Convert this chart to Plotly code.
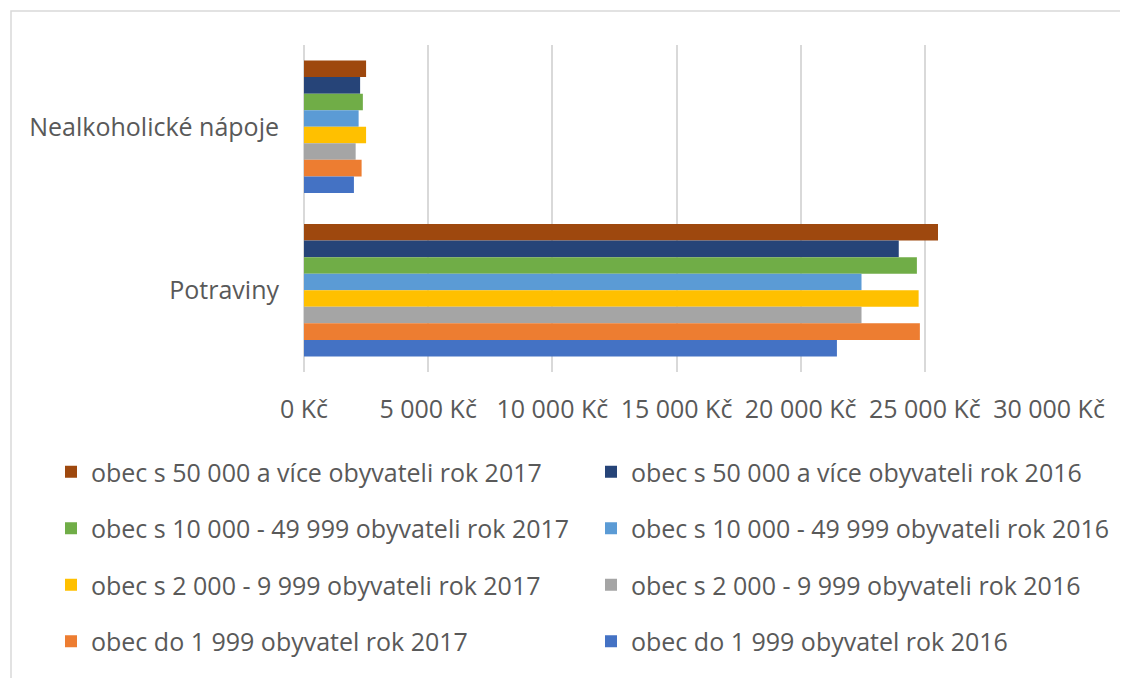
import plotly.graph_objects as go

categories = ["Nealkoholické nápoje", "Potraviny"]

series_names = [
    "obec s 50 000 a více obyvateli rok 2017",
    "obec s 50 000 a více obyvateli rok 2016",
    "obec s 10 000 - 49 999 obyvateli rok 2017",
    "obec s 10 000 - 49 999 obyvateli rok 2016",
    "obec s 2 000 - 9 999 obyvateli rok 2017",
    "obec s 2 000 - 9 999 obyvateli rok 2016",
    "obec do 1 999 obyvatel rok 2017",
    "obec do 1 999 obyvatel rok 2016",
]

val_50k_2017 = [2500, 25530]
val_50k_2016 = [2260, 23950]
val_10k_2017 = [2370, 24680]
val_10k_2016 = [2200, 22450]
val_2k_2017 = [2500, 24750]
val_2k_2016 = [2080, 22450]
val_1999_2017 = [2320, 24800]
val_1999_2016 = [2010, 21460]

series_values = [val_50k_2017, val_50k_2016, val_10k_2017, val_10k_2016,
                 val_2k_2017, val_2k_2016, val_1999_2017, val_1999_2016]

colors = ["#9E480E", "#264478", "#70AD47", "#5B9BD5",
          "#FFC000", "#A5A5A5", "#ED7D31", "#4472C4"]

tick_vals = [0, 5000, 10000, 15000, 20000, 25000, 30000]
tick_text = ["0 Kč", "5 000 Kč", "10 000 Kč", "15 000 Kč", "20 000 Kč", "25 000 Kč", "30 000 Kč"]

FONT = "Open Sans"
TXT = "#595959"
FS = 25

# plot area in figure pixels (page is offset by the 8px body margin)
PL, PR, PT, PB = 296, 1041, 37, 364
PW, PH = PR - PL, PB - PT


def px_x(px):
    return (px - PL) / PW


def px_y(py):
    return (PB - py) / PH


fig = go.Figure()
for i, (name, vals, col) in enumerate(zip(series_names, series_values, colors)):
    fig.add_trace(go.Bar(
        y=categories, x=vals, name=name, orientation="h",
        marker=dict(color=col, line=dict(width=0)),
        legend="legend" if i % 2 == 0 else "legend2",
        legendgroup=name,
    ))

legend_common = dict(
    orientation="v", xref="paper", yref="paper",
    yanchor="top", xanchor="left",
    font=dict(family=FONT, size=FS, color=TXT),
    tracegroupgap=21, bgcolor="rgba(0,0,0,0)",
)

fig.update_layout(
    width=1128, height=678,
    margin=dict(l=PL, r=1128 - PR, t=PT, b=678 - PB, autoexpand=False),
    paper_bgcolor="white", plot_bgcolor="white",
    barmode="group", bargap=0.19, bargroupgap=0,
    font=dict(family=FONT, size=FS, color=TXT),
    xaxis=dict(range=[0, 30000], tickvals=tick_vals, ticktext=tick_text,
               showgrid=True, gridcolor="#d9d9d9", gridwidth=1.5,
               zeroline=True, zerolinecolor="#d9d9d9", zerolinewidth=1.5,
               showline=False, ticks="", ticklabelstandoff=20, tickangle=0,
               automargin=False,
               tickfont=dict(family=FONT, size=FS, color=TXT)),
    yaxis=dict(autorange="reversed", showgrid=False, showline=False, ticks="",
               ticklabelstandoff=24, automargin=False,
               tickfont=dict(family=FONT, size=FS, color=TXT)),
    legend=dict(x=px_x(43), y=px_y(441), **legend_common),
    legend2=dict(x=px_x(583), y=px_y(441), **legend_common),
    shapes=[dict(type="rect", xref="paper", yref="paper",
                 x0=px_x(3), x1=px_x(1140), y0=px_y(690), y1=px_y(3),
                 line=dict(color="#d9d9d9", width=1.5), layer="below")],
)

fig.write_html("out.html")
